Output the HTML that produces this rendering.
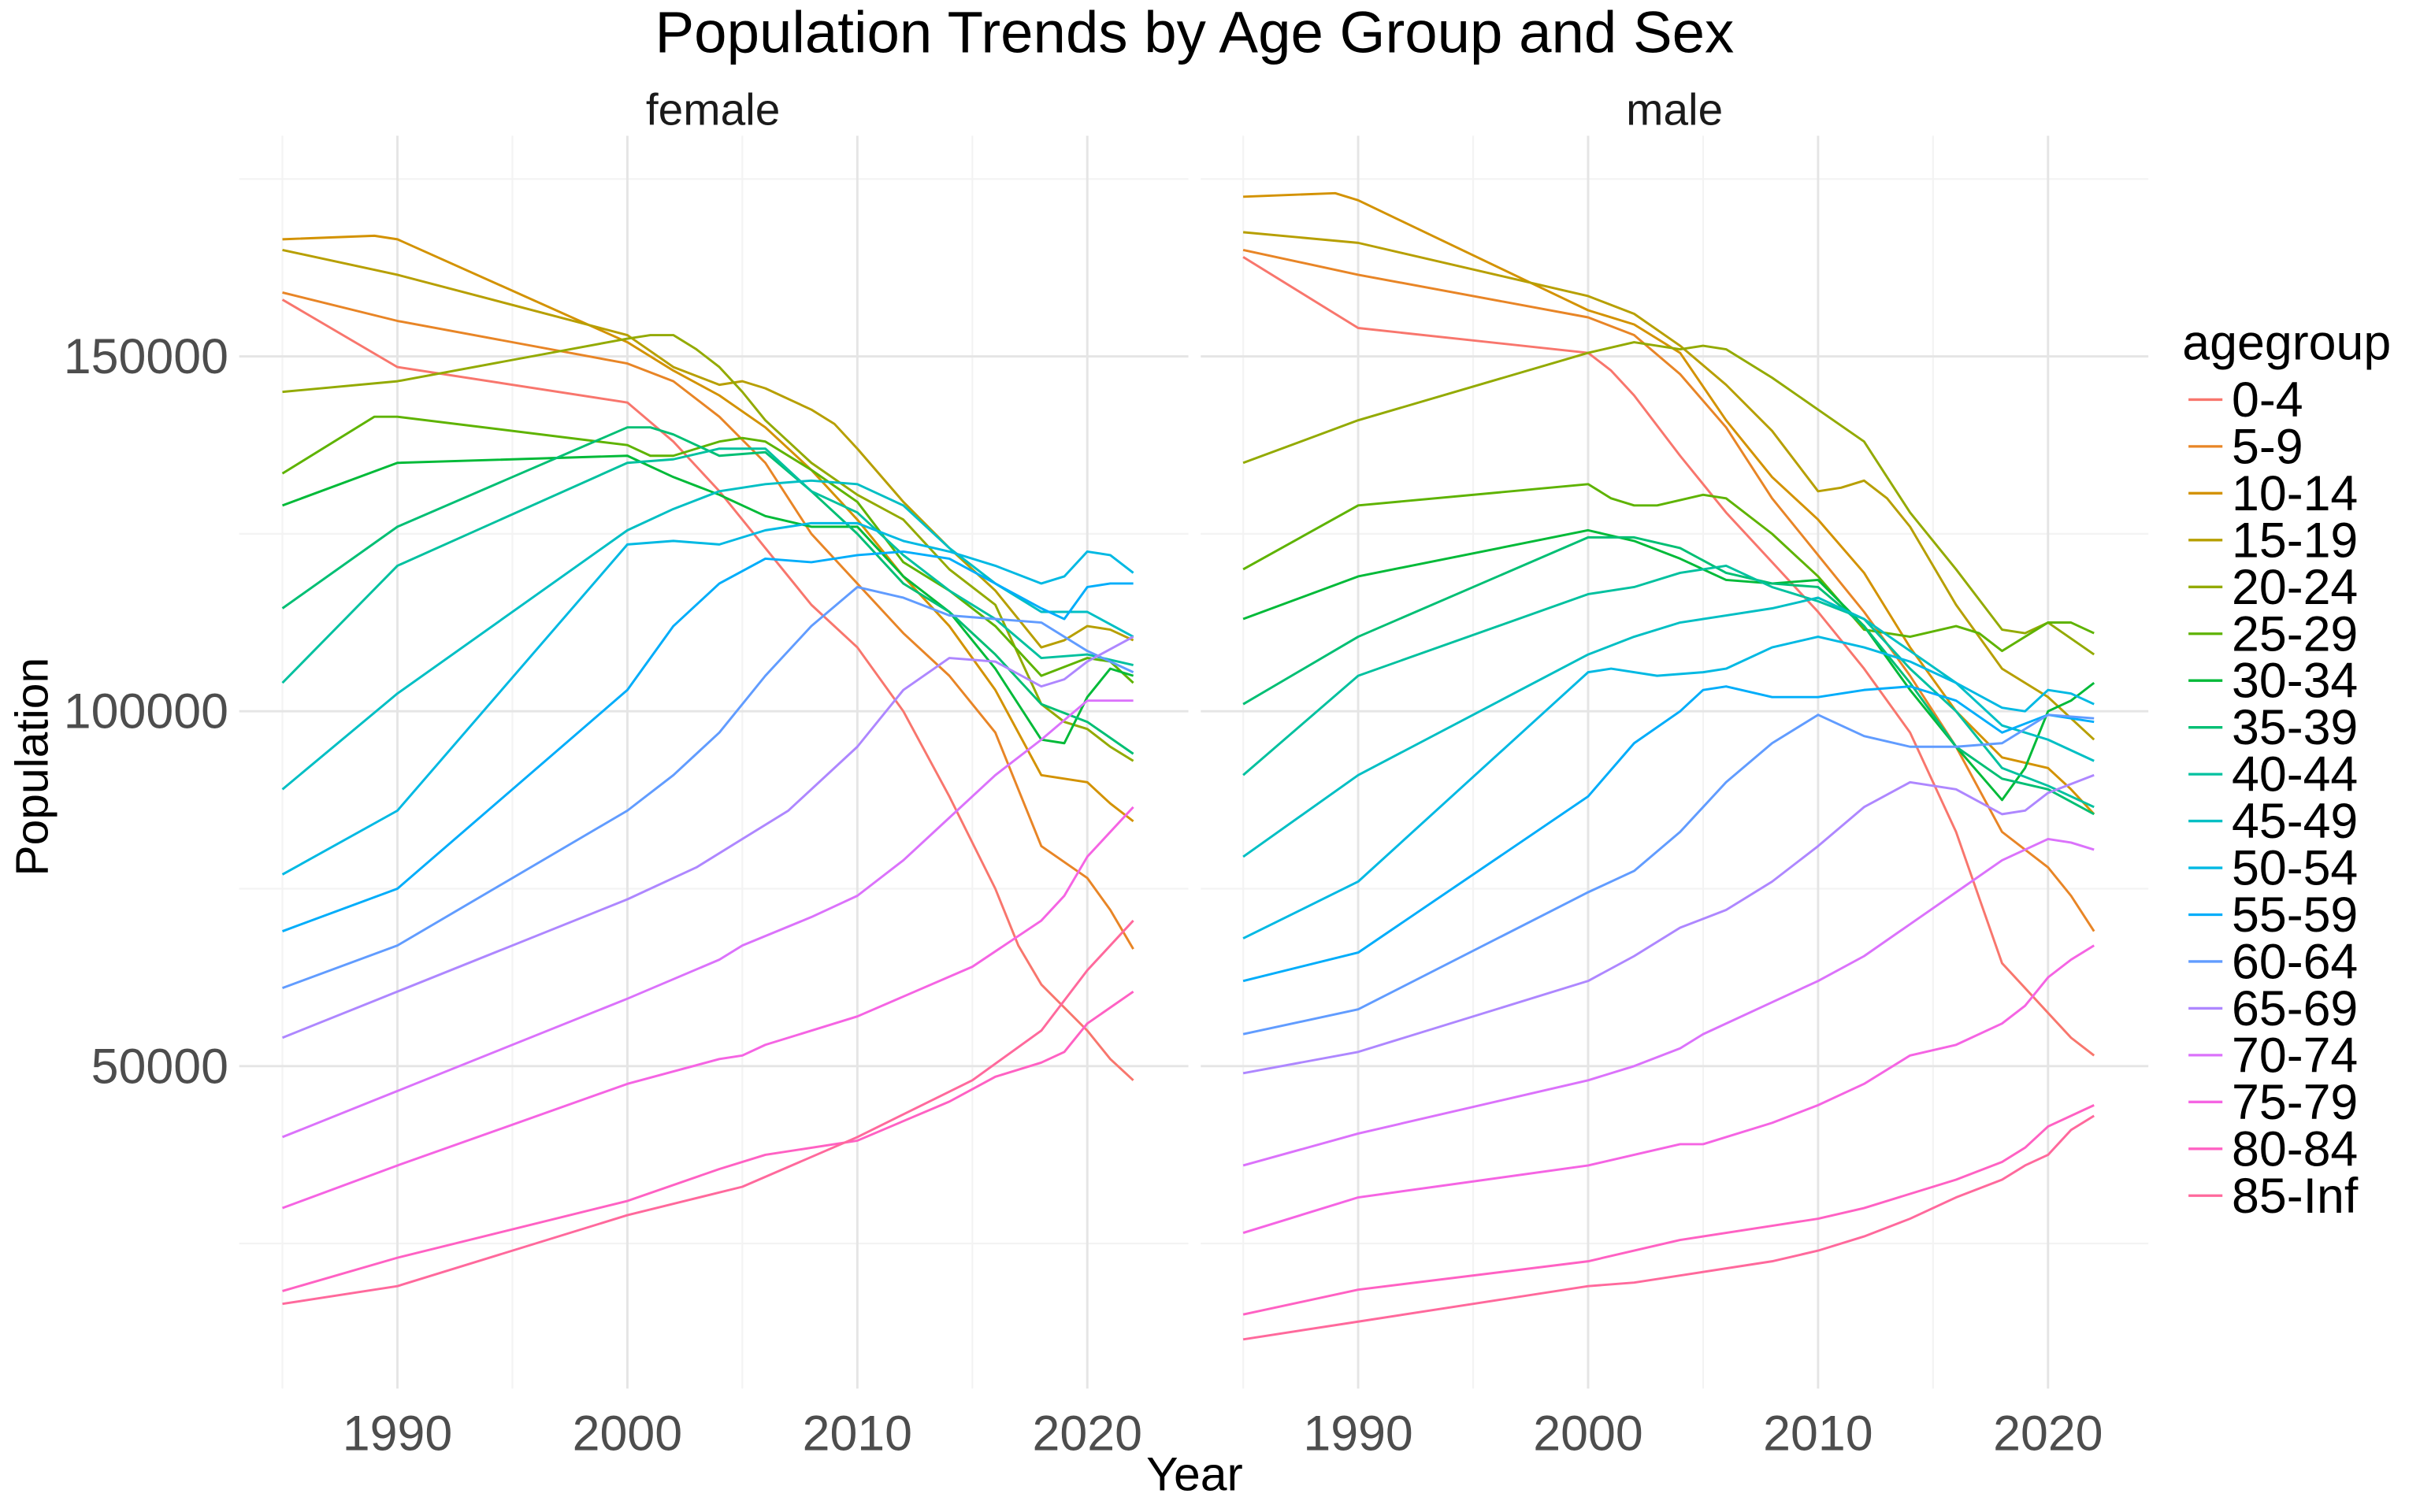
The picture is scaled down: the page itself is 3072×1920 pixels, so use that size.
<!DOCTYPE html>
<html><head><meta charset="utf-8"><style>
html,body{margin:0;padding:0;background:#fff;}
svg{display:block;font-family:"Liberation Sans",Arial,sans-serif;}
</style></head><body>
<svg id="chart" width="3072" height="1920" viewBox="0 0 1568 980" xmlns="http://www.w3.org/2000/svg">
<rect x="0" y="0" width="1568" height="980" fill="#fff"/>
<text x="774" y="34" font-size="38" text-anchor="middle" fill="#000">Population Trends by Age Group and Sex</text>
<text x="462" y="81" font-size="29" text-anchor="middle" fill="#1a1a1a">female</text>
<text x="1085" y="81" font-size="29" text-anchor="middle" fill="#1a1a1a">male</text>
<text x="774" y="966" font-size="31" text-anchor="middle" fill="#000">Year</text>
<text transform="translate(31,497) rotate(-90)" font-size="30" text-anchor="middle" fill="#000">Population</text>
<text x="1414" y="233" font-size="32" fill="#000">agegroup</text>
<g id="grid"></g><g id="lines"></g><g id="legend"></g><g id="ticks"></g>
</svg>
<script>
const ageGroups = ["0-4","5-9","10-14","15-19","20-24","25-29","30-34","35-39","40-44","45-49","50-54","55-59","60-64","65-69","70-74","75-79","80-84","85-Inf"];
const xTicks = [1990,2000,2010,2020];
const yTicks = [50000,100000,150000];
const yTickLabels = ["50000","100000","150000"];
// values in thousands, [year, value]
const female_0_4=[[1985,158],[1990,148.5],[2000,143.5],[2002,138],[2004,131],[2006,123],[2008,115],[2010,109],[2012,100],[2014,88],[2016,75],[2017,67],[2018,61.5],[2020,55],[2021,51],[2022,48]];
const female_5_9=[[1985,159],[1990,155],[2000,149],[2002,146.5],[2004,141.5],[2006,135],[2008,125],[2010,118],[2012,111],[2014,105],[2016,97],[2018,81],[2020,76.5],[2021,72],[2022,66.5]];
const female_10_14=[[1985,166.5],[1989,167],[1990,166.5],[2000,152],[2002,148],[2004,144.5],[2006,140],[2008,134],[2010,127],[2012,119],[2014,112],[2016,103],[2018,91],[2020,90],[2021,87],[2022,84.5]];
const female_15_19=[[1985,165],[1990,161.5],[2000,153],[2002,148.5],[2004,146],[2005,146.5],[2006,145.5],[2008,142.5],[2009,140.5],[2010,137],[2012,129.5],[2014,123],[2016,117],[2018,109],[2019,110],[2020,112],[2021,111.5],[2022,110]];
const female_20_24=[[1985,145],[1990,146.5],[2000,152.5],[2001,153],[2002,153],[2003,151],[2004,148.5],[2005,145],[2006,141],[2008,135],[2010,130.5],[2012,127],[2014,120],[2016,115],[2018,101],[2019,98.5],[2020,97.5],[2021,95],[2022,93]];
const female_25_29=[[1985,133.5],[1989,141.5],[1990,141.5],[2000,137.5],[2001,136],[2002,136],[2004,138],[2005,138.5],[2006,138],[2008,134],[2010,129.5],[2012,121],[2014,117],[2016,112],[2018,105],[2020,107.5],[2021,107],[2022,104]];
const female_30_34=[[1985,129],[1990,135],[2000,136],[2002,133],[2004,130.5],[2006,127.5],[2008,126],[2010,126],[2012,119],[2014,114],[2016,106],[2018,96],[2019,95.5],[2020,102],[2021,106],[2022,105]];
const female_35_39=[[1985,114.5],[1990,126],[2000,140],[2001,140],[2002,139],[2004,136],[2006,136.5],[2008,131],[2010,125],[2012,118],[2014,114],[2016,108],[2018,101],[2020,98.5],[2022,94]];
const female_40_44=[[1985,104],[1990,120.5],[2000,135],[2002,135.5],[2004,137],[2006,137],[2008,131],[2010,128],[2012,122],[2014,117],[2016,113],[2018,107.5],[2020,108],[2022,106.5]];
const female_45_49=[[1985,89],[1990,102.5],[2000,125.5],[2002,128.5],[2004,131],[2006,132],[2008,132.5],[2010,132],[2012,129],[2014,123],[2016,118],[2018,114],[2020,114],[2022,110.5]];
const female_50_54=[[1985,77],[1990,86],[2000,123.5],[2002,124],[2004,123.5],[2006,125.5],[2008,126.5],[2010,126.5],[2012,124],[2014,122.5],[2016,120.5],[2018,118],[2019,119],[2020,122.5],[2021,122],[2022,119.5]];
const female_55_59=[[1985,69],[1990,75],[2000,103],[2002,112],[2004,118],[2006,121.5],[2008,121],[2010,122],[2012,122.5],[2014,121.5],[2016,118],[2018,114.5],[2019,113],[2020,117.5],[2021,118],[2022,118]];
const female_60_64=[[1985,61],[1990,67],[2000,86],[2002,91],[2004,97],[2006,105],[2008,112],[2010,117.5],[2012,116],[2014,113.5],[2016,113],[2018,112.5],[2020,108.5],[2022,105.5]];
const female_65_69=[[1985,54],[1990,60.5],[2000,73.5],[2003,78],[2005,82],[2007,86],[2010,95],[2012,103],[2014,107.5],[2016,107],[2018,103.5],[2019,104.5],[2020,107],[2022,110.5]];
const female_70_74=[[1985,40],[1990,46.5],[2000,59.5],[2004,65],[2005,67],[2008,71],[2010,74],[2012,79],[2014,85],[2016,91],[2018,96],[2020,101.5],[2022,101.5]];
const female_75_79=[[1985,30],[1990,36],[2000,47.5],[2004,51],[2005,51.5],[2006,53],[2010,57],[2015,64],[2018,70.5],[2019,74],[2020,79.5],[2022,86.5]];
const female_80_84=[[1985,18.3],[1990,23],[2000,31],[2004,35.5],[2006,37.5],[2010,39.5],[2014,45],[2016,48.5],[2018,50.5],[2019,52],[2020,56],[2022,60.5]];
const female_85=[[1985,16.5],[1990,19],[2000,29],[2005,33],[2010,40],[2015,48],[2018,55],[2020,63.5],[2022,70.5]];
const male_0_4=[[1985,164],[1990,154],[2000,150.5],[2001,148],[2002,144.5],[2004,136],[2006,128],[2008,121],[2010,114],[2012,106],[2014,97],[2016,83],[2018,64.5],[2020,57.5],[2021,54],[2022,51.5]];
const male_5_9=[[1985,165],[1990,161.5],[2000,155.5],[2002,153],[2004,147.5],[2006,140],[2008,130],[2010,122],[2012,114],[2014,105],[2016,95],[2018,83],[2020,78],[2021,74],[2022,69]];
const male_10_14=[[1985,172.5],[1989,173],[1990,172],[2000,156.5],[2002,154.5],[2004,150.5],[2006,141],[2008,133],[2010,127],[2012,119.5],[2014,109],[2016,100],[2018,93.5],[2020,92],[2021,89],[2022,85.5]];
const male_15_19=[[1985,167.5],[1990,166],[2000,158.5],[2002,156],[2004,151.5],[2006,146],[2008,139.5],[2010,131],[2011,131.5],[2012,132.5],[2013,130],[2014,126],[2016,115],[2018,106],[2019,104],[2020,102],[2022,96]];
const male_20_24=[[1985,135],[1990,141],[2000,150.5],[2002,152],[2004,151],[2005,151.5],[2006,151],[2008,147],[2010,142.5],[2012,138],[2013,133],[2014,128],[2016,120],[2018,111.5],[2019,111],[2020,112.5],[2022,108]];
const male_25_29=[[1985,120],[1990,129],[2000,132],[2001,130],[2002,129],[2003,129],[2005,130.5],[2006,130],[2008,125],[2010,119],[2012,111.5],[2014,110.5],[2016,112],[2017,111],[2018,108.5],[2020,112.5],[2021,112.5],[2022,111]];
const male_30_34=[[1985,113],[1990,119],[2000,125.5],[2002,124],[2004,121.5],[2006,118.5],[2008,118],[2010,118.5],[2012,112],[2014,103],[2016,95],[2018,87.5],[2019,92],[2020,100],[2021,101.5],[2022,104]];
const male_35_39=[[1985,101],[1990,110.5],[2000,124.5],[2002,124.5],[2004,123],[2006,119.5],[2008,118],[2010,117.5],[2012,112],[2014,104],[2016,95],[2018,90.5],[2020,89],[2022,85.5]];
const male_40_44=[[1985,91],[1990,105],[2000,116.5],[2002,117.5],[2004,119.5],[2005,120],[2006,120.5],[2008,117.5],[2010,115.5],[2012,113],[2014,106],[2016,100],[2018,92],[2020,89.5],[2022,86.5]];
const male_45_49=[[1985,79.5],[1990,91],[2000,108],[2002,110.5],[2004,112.5],[2006,113.5],[2008,114.5],[2010,116],[2012,113],[2014,108.5],[2016,104],[2018,98],[2020,96],[2022,93]];
const male_50_54=[[1985,68],[1990,76],[2000,105.5],[2001,106],[2003,105],[2005,105.5],[2006,106],[2008,109],[2010,110.5],[2012,109],[2014,107],[2016,104],[2018,100.5],[2019,100],[2020,103],[2021,102.5],[2022,101]];
const male_55_59=[[1985,62],[1990,66],[2000,88],[2002,95.5],[2004,100],[2005,103],[2006,103.5],[2008,102],[2010,102],[2012,103],[2014,103.5],[2016,101.5],[2018,97],[2020,99.5],[2022,98.5]];
const male_60_64=[[1985,54.5],[1990,58],[2000,74.5],[2002,77.5],[2004,83],[2006,90],[2008,95.5],[2010,99.5],[2012,96.5],[2014,95],[2016,95],[2018,95.5],[2020,99.5],[2022,99]];
const male_65_69=[[1985,49],[1990,52],[2000,62],[2002,65.5],[2004,69.5],[2006,72],[2008,76],[2010,81],[2012,86.5],[2014,90],[2016,89],[2018,85.5],[2019,86],[2020,88.5],[2022,91]];
const male_70_74=[[1985,36],[1990,40.5],[2000,48],[2002,50],[2004,52.5],[2005,54.5],[2008,59],[2010,62],[2012,65.5],[2014,70],[2016,74.5],[2018,79],[2020,82],[2021,81.5],[2022,80.5]];
const male_75_79=[[1985,26.5],[1990,31.5],[2000,36],[2002,37.5],[2004,39],[2005,39],[2008,42],[2010,44.5],[2012,47.5],[2014,51.5],[2016,53],[2018,56],[2019,58.5],[2020,62.5],[2021,65],[2022,67]];
const male_80_84=[[1985,15],[1990,18.5],[2000,22.5],[2002,24],[2004,25.5],[2008,27.5],[2010,28.5],[2012,30],[2014,32],[2016,34],[2018,36.5],[2019,38.5],[2020,41.5],[2022,44.5]];
const male_85=[[1985,11.5],[1990,14],[2000,19],[2002,19.5],[2004,20.5],[2008,22.5],[2010,24],[2012,26],[2014,28.5],[2016,31.5],[2018,34],[2019,36],[2020,37.5],[2021,41],[2022,43]];
const femaleSeries=[female_0_4,female_5_9,female_10_14,female_15_19,female_20_24,female_25_29,female_30_34,female_35_39,female_40_44,female_45_49,female_50_54,female_55_59,female_60_64,female_65_69,female_70_74,female_75_79,female_80_84,female_85];
const maleSeries=[male_0_4,male_5_9,male_10_14,male_15_19,male_20_24,male_25_29,male_30_34,male_35_39,male_40_44,male_45_49,male_50_54,male_55_59,male_60_64,male_65_69,male_70_74,male_75_79,male_80_84,male_85];

const NS="http://www.w3.org/2000/svg";
function hcl(h){const L=65,C=100;const hr=h*Math.PI/180;const u=C*Math.cos(hr),v=C*Math.sin(hr);
const Xn=0.95047,Yn=1,Zn=1.08883;const d=Xn+15*Yn+3*Zn;const un=4*Xn/d,vn=9*Yn/d;
const Y=Yn*Math.pow((L+16)/116,3);const up=u/(13*L)+un,vp=v/(13*L)+vn;
const X=Y*9*up/(4*vp),Z=Y*(12-3*up-20*vp)/(4*vp);
const lin=[3.2406*X-1.5372*Y-0.4986*Z,-0.9689*X+1.8758*Y+0.0415*Z,0.0557*X-0.2040*Y+1.0570*Z];
return "#"+lin.map(c=>{c=c<=0.0031308?12.92*c:1.055*Math.pow(c,1/2.4)-0.055;c=Math.max(0,Math.min(1,c));return Math.round(c*255).toString(16).padStart(2,"0");}).join("");}
const colors=ageGroups.map((g,i)=>hcl(15+360*i/ageGroups.length));
const panels=[{name:"female",x0:155,x1:770,x1985:183,data:femaleSeries},{name:"male",x0:778,x1:1392,x1985:805.5,data:maleSeries}];
const PT=88,PB=900,PXY=14.9;
function yScale(v){return 231+(150000-v)*230/50000;}
const grid=document.getElementById("grid"),lines=document.getElementById("lines"),ticks=document.getElementById("ticks"),legend=document.getElementById("legend");
function mk(tag,attrs,parent){const e=document.createElementNS(NS,tag);for(const k in attrs)e.setAttribute(k,attrs[k]);parent.appendChild(e);return e;}
panels.forEach(p=>{
  const xs=yr=>p.x1985+(yr-1985)*PXY;
  [25000,75000,125000,175000].forEach(v=>{const l=mk("line",{x1:p.x0,x2:p.x1,y1:yScale(v),y2:yScale(v),stroke:"#f3f3f3","stroke-width":1.1},grid);
    
    });
  [1985,1995,2005,2015].forEach(yr=>{const l=mk("line",{x1:xs(yr),x2:xs(yr),y1:PT,y2:PB,stroke:"#f3f3f3","stroke-width":1.1},grid);
    
    });
  yTicks.forEach(v=>{const l=mk("line",{x1:p.x0,x2:p.x1,y1:yScale(v),y2:yScale(v),stroke:"#e5e5e5","stroke-width":1.5},grid);
    
    });
  xTicks.forEach(yr=>{const l=mk("line",{x1:xs(yr),x2:xs(yr),y1:PT,y2:PB,stroke:"#e5e5e5","stroke-width":1.5},grid);
    
    
    const t=mk("text",{x:xs(yr),y:940,"font-size":32,"text-anchor":"middle",fill:"#4d4d4d"},ticks);t.textContent=yr;
    
    });
  p.data.forEach((s,i)=>{const pts=s.map(d=>xs(d[0]).toFixed(1)+","+yScale(d[1]*1000).toFixed(1)).join(" ");
    const pl=mk("polyline",{points:pts,fill:"none",stroke:colors[i],"stroke-width":1.5,"stroke-linejoin":"round"},lines);
    
    });
});
yTicks.forEach((v,i)=>{const t=mk("text",{x:148,y:yScale(v)+11,"font-size":32,"text-anchor":"end",fill:"#4d4d4d"},ticks);t.textContent=yTickLabels[i];
  
  });
ageGroups.forEach((g,i)=>{const y=259+i*30.35;
  const gr=mk("g",{},legend);
  
  
  mk("line",{x1:1418,x2:1440,y1:y,y2:y,stroke:colors[i],"stroke-width":1.7},gr);
  const t=mk("text",{x:1446,y:y+11,"font-size":32,fill:"#000"},gr);t.textContent=g;});
</script>
</body></html>
